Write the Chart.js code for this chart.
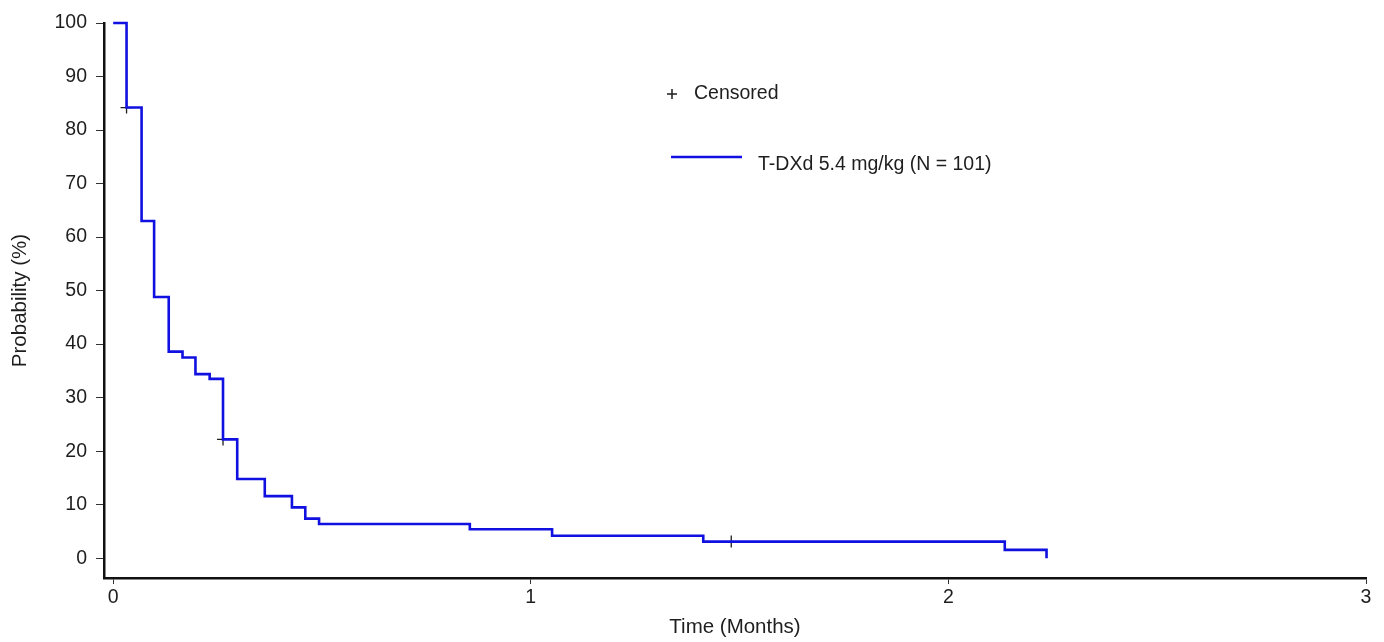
<!DOCTYPE html>
<html>
<head>
<meta charset="utf-8">
<title>Kaplan-Meier</title>
<script src="https://cdn.jsdelivr.net/npm/chart.js@4.4.1/dist/chart.umd.min.js"></script>
<style>
    html, body { margin: 0; padding: 0; background: #fff; }
</style>
</head>
<body>
<canvas id="kmChart" width="1384" height="642"></canvas>
<script>
// KM step curve: value holds from each time onward
const stepTimes  = [0, 0.032, 0.068, 0.098, 0.133, 0.166, 0.197, 0.231, 0.263, 0.297, 0.363, 0.428, 0.460, 0.493, 0.854, 1.051, 1.413, 2.135, 2.235];
const stepValues = [100, 84.2, 63.0, 48.8, 38.6, 37.5, 34.4, 33.5, 22.2, 14.8, 11.6, 9.5, 7.4, 6.4, 5.4, 4.2, 3.1, 1.55, 0];

const censorTimes  = [0.032, 0.263, 1.480];
const censorValues = [84.2, 22.2, 3.1];

const xTickValues = [0, 1, 2, 3];
const yTickValues = [0, 10, 20, 30, 40, 50, 60, 70, 80, 90, 100];

const seriesLabel = 'T-DXd 5.4 mg/kg (N = 101)';
const censorLabel = 'Censored';
const xTitle = 'Time (Months)';
const yTitle = 'Probability (%)';

const fontFamily = "'Liberation Sans', Arial, sans-serif";
const lineColor = '#1010e0';
const inkColor = '#1e1e1e';

// legend drawn in the upper middle of the plot, like the original
const kmLegend = {
    id: 'kmLegend',
    afterDraw(chart) {
        const ctx = chart.ctx;
        ctx.save();
        ctx.font = `19.5px ${fontFamily}`;
        ctx.fillStyle = inkColor;
        ctx.textBaseline = 'middle';

        // censor symbol
        ctx.strokeStyle = inkColor;
        ctx.lineWidth = 1.5;
        ctx.beginPath();
        ctx.moveTo(667, 94); ctx.lineTo(677, 94);
        ctx.moveTo(672, 89); ctx.lineTo(672, 99);
        ctx.stroke();
        ctx.fillText(censorLabel, 694, 94);

        // series line
        ctx.strokeStyle = lineColor;
        ctx.lineWidth = 2.5;
        ctx.beginPath();
        ctx.moveTo(671, 157); ctx.lineTo(742, 157);
        ctx.stroke();
        ctx.fillText(seriesLabel, 758, 165);
        ctx.restore();
    }
};

new Chart(document.getElementById('kmChart').getContext('2d'), {
    type: 'line',
    data: {
        datasets: [
            {
                label: seriesLabel,
                data: stepTimes.map((t, i) => ({ x: t, y: stepValues[i] })),
                borderColor: lineColor,
                borderWidth: 2.6,
                stepped: 'before',
                pointRadius: 0,
                fill: false,
                clip: false
            },
            {
                label: censorLabel,
                type: 'scatter',
                data: censorTimes.map((t, i) => ({ x: t, y: censorValues[i] })),
                pointStyle: 'cross',
                pointRadius: 6,
                borderColor: inkColor,
                backgroundColor: inkColor,
                pointBorderWidth: 1.3,
                showLine: false,
                clip: false
            }
        ]
    },
    options: {
        responsive: false,
        animation: false,
        layout: { padding: { top: 23, right: 18, bottom: 0, left: 0 } },
        plugins: {
            legend: { display: false },
            tooltip: { enabled: false }
        },
        scales: {
            x: {
                type: 'linear',
                min: -0.022,
                max: 3,
                afterBuildTicks: scale => { scale.ticks = xTickValues.map(v => ({ value: v })); },
                afterFit: scale => { scale.height = 64; },
                border: { display: true, color: '#111', width: 2.5 },
                grid: { drawOnChartArea: false, tickLength: 6, color: '#333', lineWidth: 1 },
                ticks: {
                    padding: 2,
                    color: inkColor,
                    font: { family: fontFamily, size: 19.5 },
                    maxRotation: 0
                },
                title: {
                    display: true,
                    text: xTitle,
                    color: inkColor,
                    font: { family: fontFamily, size: 20.5 },
                    padding: { top: 0, bottom: 2 }
                }
            },
            y: {
                min: -3.7,
                max: 100,
                afterBuildTicks: scale => { scale.ticks = yTickValues.map(v => ({ value: v })); },
                afterFit: scale => { scale.width = 104; },
                border: { display: true, color: '#111', width: 2.5 },
                grid: { drawOnChartArea: false, tickLength: 8, color: '#333', lineWidth: 1 },
                ticks: {
                    padding: 9,
                    color: inkColor,
                    font: { family: fontFamily, size: 19.5 }
                },
                title: {
                    display: true,
                    text: yTitle,
                    color: inkColor,
                    font: { family: fontFamily, size: 20.5 },
                    padding: { top: 8, bottom: 0 }
                }
            }
        }
    },
    plugins: [kmLegend]
});
</script>
</body>
</html>
